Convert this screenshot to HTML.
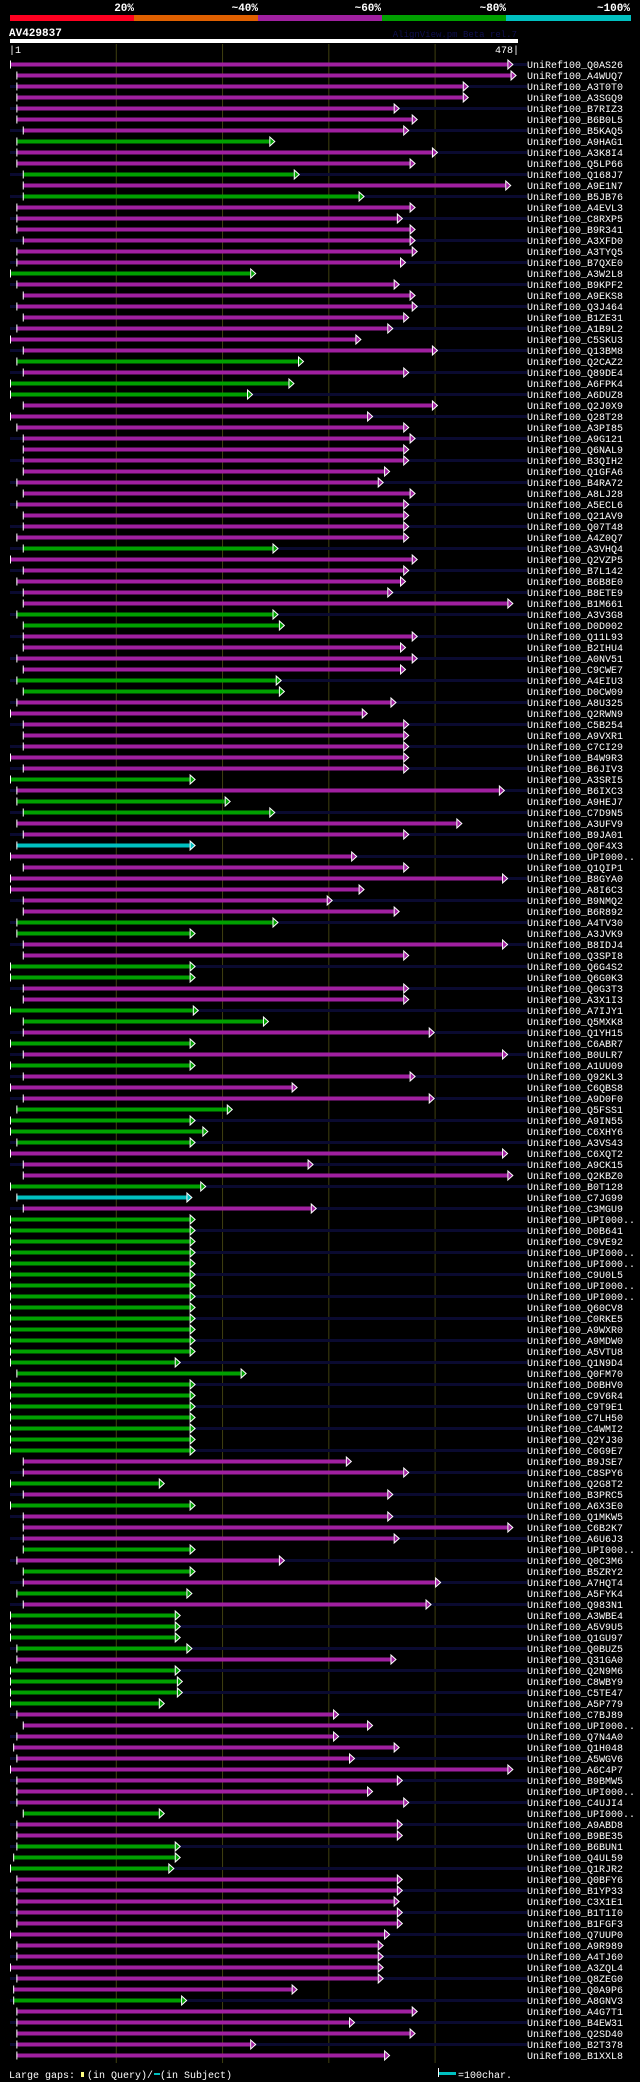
<!DOCTYPE html>
<html><head><meta charset="utf-8">
<style>
html,body{margin:0;padding:0;background:#000;}
body{width:640px;height:2082px;overflow:hidden;}
svg{display:block;}
text{font-family:"Liberation Mono",monospace;}
</style></head>
<body>
<svg id="chart" width="640" height="2082" viewBox="0 0 640 2082" xmlns="http://www.w3.org/2000/svg">
  <rect x="0" y="0" width="640" height="2082" fill="#000"/>
  <g>
    <rect x="10" y="15" width="124" height="6" fill="#ff0020"/>
    <rect x="134" y="15" width="124" height="6" fill="#e06000"/>
    <rect x="258" y="15" width="124" height="6" fill="#a020a0"/>
    <rect x="382" y="15" width="124" height="6" fill="#00a000"/>
    <rect x="506" y="15" width="125" height="6" fill="#00c0c0"/>
    <g font-size="11" font-weight="bold" fill="#fff" text-anchor="end">
      <text x="134" y="11">20%</text>
      <text x="258" y="11">~40%</text>
      <text x="381" y="11">~60%</text>
      <text x="506" y="11">~80%</text>
      <text x="630" y="11">~100%</text>
    </g>
  </g>
  <text x="9" y="36" font-size="11" font-weight="bold" fill="#fff">AV429837</text>
  <text x="517" y="37" font-size="9" fill="#101050" text-anchor="end">AlignView.pm Beta rel.7</text>
  <rect x="10" y="39" width="508" height="4" fill="#fff"/>
  <text x="9" y="53" font-size="10" fill="#fff">|1</text>
  <text x="519" y="53" font-size="10" fill="#fff" text-anchor="end">478|</text>
  <g id="grid"></g>
  <g id="rows"></g>
  <g>
    <text x="9" y="2078" font-size="10" fill="#fff">Large gaps:</text>
    <rect x="81" y="2072" width="3" height="5" fill="#ffff80"/>
    <text x="87" y="2078" font-size="10" fill="#fff">(in Query)/</text>
    <rect x="154" y="2073" width="6" height="2" fill="#00c0c0"/>
    <text x="160" y="2078" font-size="10" fill="#fff"> (in Subject)</text>
    <rect x="438" y="2068" width="1" height="9" fill="#fff"/>
    <rect x="439" y="2072" width="17" height="3" fill="#00c0c0"/>
    <text x="458" y="2078" font-size="10" fill="#fff">=100char.</text>
  </g>
</svg>
<script>
const queryLength = 478;
const gridTicks = [100, 200, 300, 400];
const ids = ["Q0AS26","A4WUQ7","A3T0T0","A3SGQ9","B7RIZ3","B6B0L5","B5KAQ5","A9HAG1","A3K8I4","Q5LP66","Q168J7","A9E1N7","B5JB76","A4EVL3","C8RXP5","B9R341","A3XFD0","A3TYQ5","B7QXE0","A3W2L8",
"B9KPF2","A9EKS8","Q3J464","B1ZE31","A1B9L2","C5SKU3","Q13BM8","Q2CAZ2","Q89DE4","A6FPK4","A6DUZ8","Q2J0X9","Q28T28","A3PI85","A9G121","Q6NAL9","B3QIH2","Q1GFA6","B4RA72","A8LJ28",
"A5ECL6","Q21AV9","Q07T48","A4Z0Q7","A3VHQ4","Q2VZP5","B7L142","B6B8E0","B8ETE9","B1M661","A3V3G8","D0D002","Q11L93","B2IHU4","A0NV51","C9CWE7","A4EIU3","D0CW09","A8U325","Q2RWN9",
"C5B254","A9VXR1","C7CI29","B4W9R3","B6JIV3","A3SRI5","B6IXC3","A9HEJ7","C7D9N5","A3UFV9","B9JA01","Q0F4X3","UPI000..","Q1QIP1","B8GYA0","A8I6C3","B9NMQ2","B6R892","A4TV30","A3JVK9",
"B8IDJ4","Q3SPI8","Q6G4S2","Q6G0K3","Q0G3T3","A3X1I3","A7IJY1","Q5MXK8","Q1YH15","C6ABR7","B0ULR7","A1UU09","Q92KL3","C6QBS8","A9D0F0","Q5FSS1","A9IN55","C6XHY6","A3VS43","C6XQT2",
"A9CK15","Q2KBZ0","B0T128","C7JG99","C3MGU9","UPI000..","D0B641","C9VE92","UPI000..","UPI000..","C9U0L5","UPI000..","UPI000..","Q60CV8","C0RKE5","A9WXR0","A9MDW0","A5VTU8","Q1N9D4","Q0FM70",
"D0BHV0","C9V6R4","C9T9E1","C7LH50","C4WMI2","Q2YJ30","C0G9E7","B9JSE7","C8SPY6","Q2G8T2","B3PRC5","A6X3E0","Q1MKW5","C6B2K7","A6U6J3","UPI000..","Q0C3M6","B5ZRY2","A7HQT4","A5FYK4",
"Q983N1","A3WBE4","A5V9U5","Q1GU97","Q0BUZ5","Q31GA0","Q2N9M6","C8WBY9","C5TE47","A5P779","C7BJ89","UPI000..","Q7N4A0","Q1H048","A5WGV6","A6C4P7","B9BMW5","UPI000..","C4UJI4","UPI000..",
"A9ABD8","B9BE35","B6BUN1","Q4UL59","Q1RJR2","Q0BFY6","B1YP33","C3X1E1","B1T1I0","B1FGF3","Q7UUP0","A9R989","A4TJ60","A3ZQL4","Q8ZEG0","Q0A9P6","A8GNV3","A4G7T1","B4EW31","Q2SD40",
"B2T378","B1XXL8"];
const starts = [0,6,6,6,6,6,12,6,6,6,12,12,12,6,6,6,12,6,6,0,
6,12,6,12,6,0,12,6,12,0,0,12,0,6,12,12,12,12,6,12,
6,12,12,6,12,0,12,6,12,12,6,12,12,12,6,12,6,12,6,0,
12,12,12,0,12,0,6,6,12,6,12,6,0,12,0,0,12,12,6,6,
12,12,0,0,12,12,0,12,12,0,12,0,12,0,12,6,0,0,6,0,
12,12,0,6,12,0,0,0,0,0,0,0,0,0,0,0,0,0,0,6,
0,0,0,0,0,0,0,12,12,0,12,0,12,12,12,12,6,12,12,6,
12,0,0,0,6,6,0,0,0,0,6,12,6,3,6,0,6,6,6,12,
6,6,6,3,0,6,6,6,6,6,0,6,6,0,6,3,3,6,6,6,
6,6];
const ends = [468,471,426,426,361,378,370,244,397,376,267,466,328,376,364,376,376,378,367,226,
361,376,378,370,355,325,397,271,370,262,223,397,336,370,376,370,370,352,346,376,
370,370,370,370,247,378,370,367,355,468,247,253,378,367,378,367,250,253,358,331,
370,370,370,370,370,169,460,202,244,420,370,169,321,370,463,328,298,361,247,169,
463,370,169,169,370,370,172,238,394,169,463,169,376,265,394,204,169,181,169,463,
280,468,179,166,283,169,169,169,169,169,169,169,169,169,169,169,169,169,155,217,
169,169,169,169,169,169,169,316,370,140,355,169,355,468,361,169,253,169,400,166,
391,155,155,155,166,358,155,157,157,140,304,336,304,361,319,468,364,336,370,140,
364,364,155,155,149,364,364,361,364,364,352,346,346,346,346,265,161,378,319,376,
226,352];
const kinds = ["P","P","P","P","P","P","P","G","P","P","G","P","G","P","P","P","P","P","P","G",
"P","P","P","P","P","P","P","G","P","G","G","P","P","P","P","P","P","P","P","P",
"P","P","P","P","G","P","P","P","P","P","G","G","P","P","P","P","G","G","P","P",
"P","P","P","P","P","G","P","G","G","P","P","C","P","P","P","P","P","P","G","G",
"P","P","G","G","P","P","G","G","P","G","P","G","P","P","P","G","G","G","G","P",
"P","P","G","C","P","G","G","G","G","G","G","G","G","G","G","G","G","G","G","G",
"G","G","G","G","G","G","G","P","P","G","P","G","P","P","P","G","P","G","P","G",
"P","G","G","G","G","P","G","G","G","G","P","P","P","P","P","P","P","P","P","G",
"P","P","G","G","G","P","P","P","P","P","P","P","P","P","P","P","G","P","P","P",
"P","P"];

const NS = "http://www.w3.org/2000/svg";
const X0 = 10, XW = 508, ROW0 = 64.5, PITCH = 11;
const colors = {P:"#a020a0", G:"#00a000", C:"#00c0c0"};
function xScale(c){ return X0 + c * XW / queryLength; }
function yScale(i){ return ROW0 + i * PITCH; }
function mk(tag, attrs){ const e = document.createElementNS(NS, tag); for (const k in attrs) e.setAttribute(k, attrs[k]); return e; }

const grid = document.getElementById('grid');
gridTicks.forEach(t => {
  const l = mk('line', {x1: xScale(t), x2: xScale(t), y1: 44, y2: 2063, stroke: '#404010', 'stroke-width': 1});
  
  
  grid.appendChild(l);
});

const rows = document.getElementById('rows');
ids.forEach((id, i) => {
  const y = yScale(i);
  const g = mk('g', {});
  
  
  if (i % 2 === 0) {
    const bg = mk('rect', {x: X0, y: y - 1.5, width: 517, height: 3, fill: '#0a0a30'});
    
    
    g.appendChild(bg);
  }
  const xs = xScale(starts[i]), xe = xScale(ends[i]);
  const col = colors[kinds[i]];
  const bar = mk('rect', {x: xs, y: y - 2, width: Math.max(0, xe - xs), height: 4, fill: col});
  
  
  g.appendChild(bar);
  const tick = mk('rect', {x: xs, y: y - 4, width: 1, height: 8, fill: '#fff'});
  
  
  g.appendChild(tick);
  const tri = mk('polygon', {points: (xe+0.5)+','+(y-4.5)+' '+(xe+5.5)+','+y+' '+(xe+0.5)+','+(y+4.5), fill: col, stroke: '#fff', 'stroke-width': 1});
  
  
  g.appendChild(tri);
  const t = mk('text', {x: 527, y: y + 3.5, 'font-size': 10, fill: '#fff'});
  t.textContent = 'UniRef100_' + id;
  
  
  g.appendChild(t);
  rows.appendChild(g);
});
</script>
</body></html>
